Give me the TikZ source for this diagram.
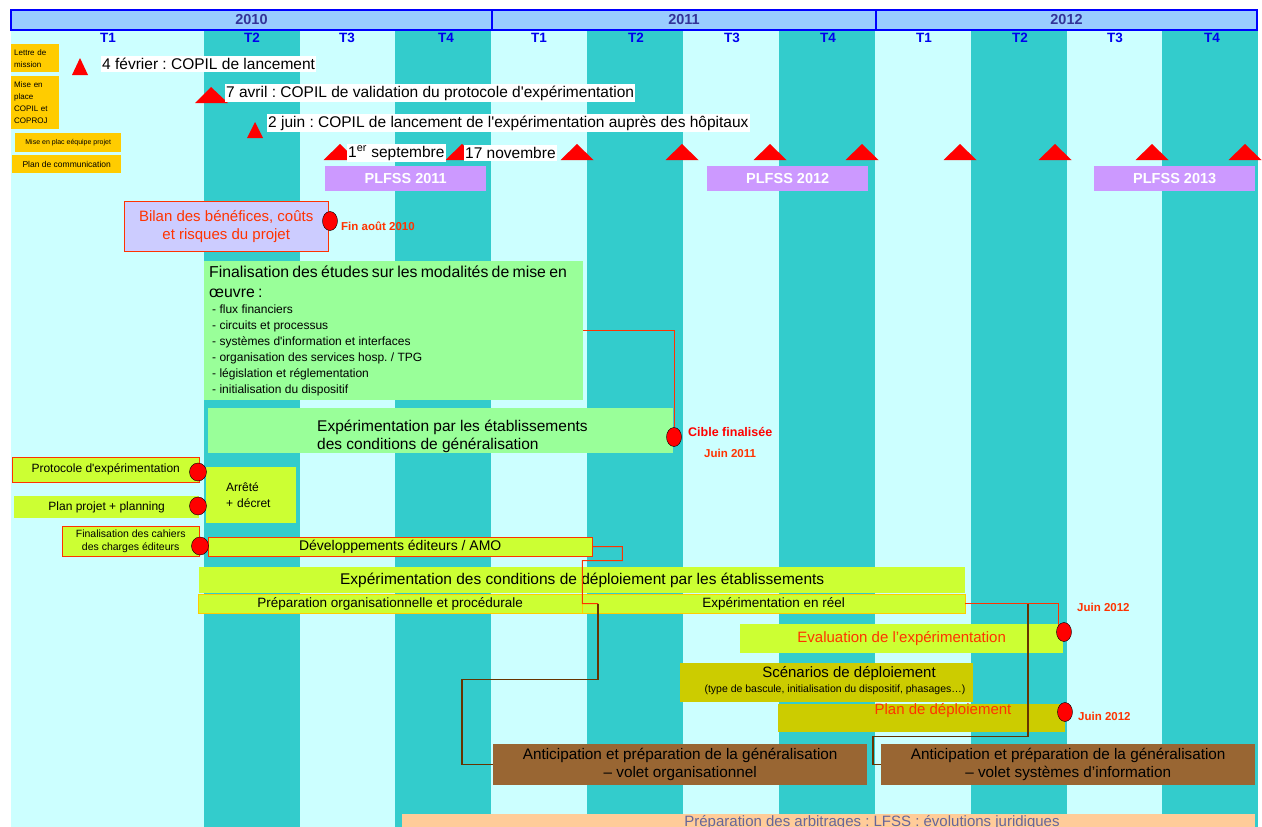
\documentclass[tikz,border=0pt]{standalone}
\usepackage{fontspec}
\setmainfont{Liberation Sans}
\frenchspacing
\usetikzlibrary{shapes.geometric}
\definecolor{qlight}{HTML}{CCFFFF}
\definecolor{qdark}{HTML}{33CCCC}
\definecolor{cheader}{HTML}{99CCFF}
\definecolor{cyear}{HTML}{333399}
\definecolor{cquarter}{HTML}{0000EE}
\definecolor{cjaune}{HTML}{FFCC00}
\definecolor{cplfss}{HTML}{CC99FF}
\definecolor{cbilan}{HTML}{CCCCFF}
\definecolor{corange}{HTML}{FF3300}
\definecolor{cgreen}{HTML}{99FF99}
\definecolor{cyg}{HTML}{CCFF33}
\definecolor{colive}{HTML}{CCCC00}
\definecolor{cbrown}{HTML}{996633}
\definecolor{cbrownline}{HTML}{663300}
\definecolor{cpeach}{HTML}{FFCC99}
\definecolor{cslate}{HTML}{666699}

\begin{document}
\begin{tikzpicture}[x=1pt, y=-1pt,
  every node/.style={inner sep=0pt},
  box/.style={rectangle, anchor=north west, align=center},
  big/.style={font=\fontsize{15}{18}\selectfont},
  mid/.style={font=\fontsize{13.5}{15}\selectfont},
  year/.style={box, draw=blue, line width=2pt, fill=cheader, text=cyear,
    font=\bfseries\fontsize{14.5}{16}\selectfont, minimum height=20},
  quarter/.style={text=cquarter, font=\bfseries\fontsize{13.5}{15}\selectfont},
  orbox/.style={box, fill=cjaune},
  copil/.style={fill=white, anchor=west, inner xsep=1pt, inner ysep=2pt,
    font=\fontsize{15.5}{18}\selectfont},
  plfss/.style={box, fill=cplfss, text=white, minimum width=161, minimum height=25,
    font=\bfseries\fontsize{14.5}{17}\selectfont},
  yg/.style={box, fill=cyg},
  ant/.style={box, fill=cbrown, font=\fontsize{15.3}{18}\selectfont,
    minimum width=374, minimum height=41},
  jalon/.style={ellipse, draw=black, fill=red, minimum width=15, minimum height=19},
  date/.style={anchor=west, text=corange, font=\bfseries\fontsize{11.5}{14}\selectfont},
  link/.style={draw=corange, line width=1pt},
  brun/.style={draw=cbrownline, line width=1.2pt}]
  \useasboundingbox (0,0) rectangle (1262,827);
  \clip (0,0) rectangle (1262,827);
  \fill[qlight] (11,29) rectangle (1258,827);
  \foreach \x in {204,395,587,779,971,1162}
    \fill[qdark] (\x,29) rectangle ++(96,798);

  \node[year, minimum width=481] (y2010) at (10,9) {2010};
  \node[year, minimum width=384] (y2011) at (491,9) {2011};
  \node[year, minimum width=381] (y2012) at (875,9) {2012};
  \foreach \x/\t in {108/T1,252/T2,347/T3,446/T4,539/T1,636/T2,732/T3,828/T4,
                     924/T1,1020/T2,1115/T3,1212/T4}
    \node[quarter] (q\x) at (\x,38) {\t};

  \node[orbox, minimum width=48, minimum height=28, text width=42, align=left,
    inner xsep=3, font=\fontsize{8}{12}\selectfont] (lettre) at (11,44) {Lettre de\\mission};
  \node[orbox, minimum width=48, minimum height=53, text width=42, align=left,
    inner xsep=3, font=\fontsize{8}{12}\selectfont] (pilotage) at (11,76)
    {Mise en\\place\\COPIL et\\COPROJ};
  \node[orbox, minimum width=106, minimum height=19, font=\fontsize{7}{9}\selectfont]
    (equipe) at (15,133) {Mise en plac eéquipe projet};
  \node[orbox, minimum width=109, minimum height=18, font=\fontsize{8.5}{10}\selectfont]
    (comm) at (12,155) {Plan de communication};

  \fill[red] (72,75) -- (88,75) -- (80,58) -- cycle;
  \fill[red] (195,103) -- (228,103) -- (211,87) -- cycle;
  \fill[red] (247,138) -- (263,138) -- (255,122) -- cycle;
  \foreach \x in {340,462,577,682,770,862,960,1055,1152,1245}
    \fill[red] (\x-16.5,160) -- (\x+16.5,160) -- (\x,144) -- cycle;

  \node[copil] (c1) at (101,64) {4 février : COPIL de lancement};
  \node[copil] (c2) at (225,93)
    {7 avril : COPIL de validation du protocole d\textquotesingle expérimentation};
  \node[copil] (c3) at (267,123)
    {2 juin : COPIL de lancement de l\textquotesingle expérimentation auprès des hôpitaux};
  \node[copil] (c4) at (347,153) {1\textsuperscript{er} septembre};
  \node[copil] (c5) at (464,153) {17 novembre};

  \node[plfss] (p2011) at (325,166) {PLFSS 2011};
  \node[plfss] (p2012) at (707,166) {PLFSS 2012};
  \node[plfss] (p2013) at (1094,166) {PLFSS 2013};

  \node[box, fill=cbilan, draw=corange, text=corange, big, minimum width=204,
    minimum height=50] (bilan) at (124,201) {Bilan des bénéfices, coûts\\et risques du projet};
  \node[jalon] (m1) at (330,221) {};
  \node[date] (d1) at (341,226) {Fin août 2010};

  \node[box, fill=cgreen, minimum width=379, minimum height=139, text width=369,
    align=left, inner xsep=5] (etudes) at (204,261)
    {{\fontsize{15.8}{20}\selectfont Finalisation des études sur les modalités de mise en\\œuvre :\par}
     {\fontsize{12}{16}\selectfont\leftskip=3pt - flux financiers\\- circuits et processus\\
      - systèmes d\textquotesingle information et interfaces\\- organisation des services hosp. / TPG\\
      - législation et réglementation\\- initialisation du dispositif\par}};
  \node[box, fill=cgreen, minimum width=465, minimum height=45] (exppar) at (208,408) {};
  \node[align=left, anchor=west, font=\fontsize{15.5}{18}\selectfont] (exppar-t)
    at (317,436) {Expérimentation par les établissements\\des conditions de généralisation};
  \node[jalon] (m2) at (674,437) {};
  \node[anchor=west, text=red, font=\bfseries\fontsize{12.5}{15}\selectfont] (cible)
    at (688,432) {Cible finalisée};
  \node[date] (d2) at (704,453) {Juin 2011};

  \node[yg, draw=corange, minimum width=187, minimum height=25,
    font=\fontsize{12}{14}\selectfont] (proto) at (12,457)
    {Protocole d\textquotesingle expérimentation};
  \node[yg, minimum width=185, minimum height=22, font=\fontsize{12}{14}\selectfont]
    (planprojet) at (14,496) {Plan projet + planning};
  \node[yg, minimum width=90, minimum height=56, text width=50, align=left,
    font=\fontsize{12}{16}\selectfont] (arrete) at (206,467) {Arrêté\\+ décret};
  \node[yg, draw=corange, minimum width=137, minimum height=30,
    font=\fontsize{10.5}{13}\selectfont] (cahiers) at (62,526)
    {Finalisation des cahiers\\des charges éditeurs};
  \node[yg, draw=corange, minimum width=384, minimum height=19,
    font=\fontsize{14}{15}\selectfont] (dev) at (208,537) {Développements éditeurs / AMO};
  \node[jalon, minimum width=17, minimum height=18] (m3) at (198,472) {};
  \node[jalon, minimum width=17, minimum height=18] (m4) at (198,506) {};
  \node[jalon, minimum width=17, minimum height=18] (m5) at (200,546) {};

  \node[yg, minimum width=766, minimum height=26, font=\fontsize{15.5}{18}\selectfont]
    (expdep) at (199,567)
    {Expérimentation des conditions de déploiement par les établissements};
  \node[yg, draw=cjaune, minimum width=384, minimum height=19, mid] (prep) at (198,594)
    {Préparation organisationnelle et procédurale};
  \node[yg, draw=cjaune, minimum width=383, minimum height=19, mid] (reel) at (582,594)
    {Expérimentation en réel};

  \node[yg, minimum width=323, minimum height=29, big, text=corange] (eval) at (740,624)
    {Evaluation de l'expérimentation};
  \node[jalon] (m6) at (1064,632) {};
  \node[date] (d3) at (1077,607) {Juin 2012};
  \node[box, fill=colive, minimum width=293, minimum height=39] (scen) at (680,663) {};
  \node[big] (scen-t) at (849,674) {Scénarios de déploiement};
  \node[font=\fontsize{10.5}{12}\selectfont] (scen-s) at (835,690)
    {(type de bascule, initialisation du dispositif, phasages\ldots)};
  \node[box, fill=colive, minimum width=287, minimum height=28] (pdep) at (778,704) {};
  \node[big, text=corange] (pdep-t) at (943,711) {Plan de déploiement};
  \node[jalon] (m7) at (1065,712) {};
  \node[date] (d4) at (1078,716) {Juin 2012};

  \node[ant] (antorg) at (493,744)
    {Anticipation et préparation de la généralisation\\– volet organisationnel};
  \node[ant] (antsi) at (881,744)
    {Anticipation et préparation de la généralisation\\– volet systèmes d'information};

  \node[box, fill=cpeach, minimum width=853, minimum height=20] (arb) at (402,814) {};
  \node[big, text=cslate, anchor=north] (arb-t) at (872,815)
    {Préparation des arbitrages : LFSS : évolutions juridiques};

  \coordinate (k1) at (598,603.5);
  \coordinate (k2) at (1028,603.5);
  \draw[link] (etudes.east) -| (m2.north);
  \draw[link] (dev.east) -| ++(30,14) -| (prep.east) -- (k1);
  \draw[brun] (k1) |- ++(-136,76) |- (antorg.west);
  \draw[link] (reel.east) -| (m6.north west);
  \draw[brun] (k2) |- ++(-155,133) |- (antsi.west);
\end{tikzpicture}
\end{document}
